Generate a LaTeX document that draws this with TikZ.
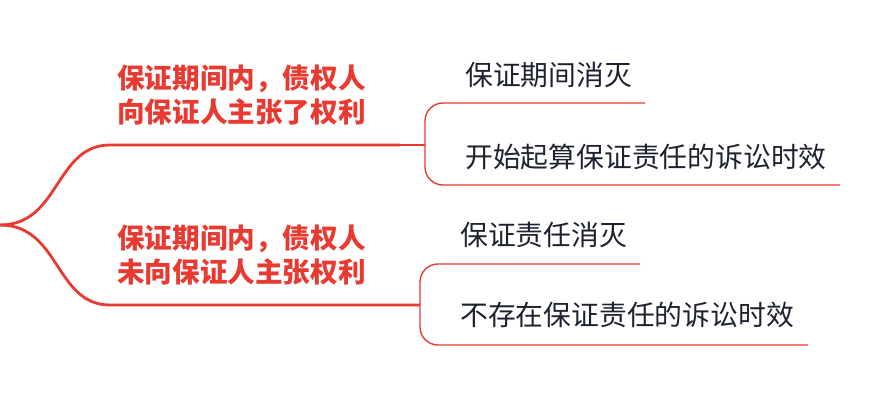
\documentclass[tikz,border=0pt]{standalone}
\usepackage{fontspec}
\newfontfamily\cjk{Noto Sans CJK SC}
\definecolor{rd}{RGB}{232,58,48}
\definecolor{dk}{RGB}{30,34,48}
\begin{document}
\begin{tikzpicture}[x=1pt,y=-1pt,
  redlbl/.style={text=rd,font=\cjk\bfseries\fontsize{27.6}{34}\selectfont,align=left,inner sep=0},
  leaf/.style={text=dk,font=\cjk\fontsize{27.8}{30}\selectfont,anchor=west,inner sep=0},
  main/.style={draw=rd,line width=2.8pt},
  sub/.style={draw=rd,line width=1.4pt}]
\useasboundingbox (0,0) rectangle (872,402);
\coordinate (root) at (0,225);
\coordinate (u) at (400,145);
\coordinate (l) at (420,305);
\draw[main] (root) .. controls (60,225) and (55,145) .. (110,145) -- (u);
\draw[main] (root) .. controls (60,225) and (55,305) .. (110,305) -- (l);
\node[redlbl,anchor=west] (t1) at (117,95) {保证期间内，债权人\\向保证人主张了权利};
\node[redlbl,anchor=west] (t2) at (117,255) {保证期间内，债权人\\未向保证人主张权利};
% upper children
\coordinate (a1) at (645,103); \coordinate (a2) at (840,185);
\draw[sub] (u) -- (425,145);
\draw[sub,rounded corners=18pt] (a1) -- (425,103) -- (425,185) -- (a2);
\node[leaf] (c1) at (465,75) {保证期间消灭};
\node[leaf] (c2) at (465,157) {开始起算保证责任的诉讼时效};
% lower children
\coordinate (b1) at (640,264); \coordinate (b2) at (808,345);
\draw[sub,rounded corners=18pt] (b1) -- (420,264) -- (420,345) -- (b2);
\node[leaf] (d1) at (460,235) {保证责任消灭};
\node[leaf] (d2) at (460,315) {不存在保证责任的诉讼时效};
\end{tikzpicture}
\end{document}
